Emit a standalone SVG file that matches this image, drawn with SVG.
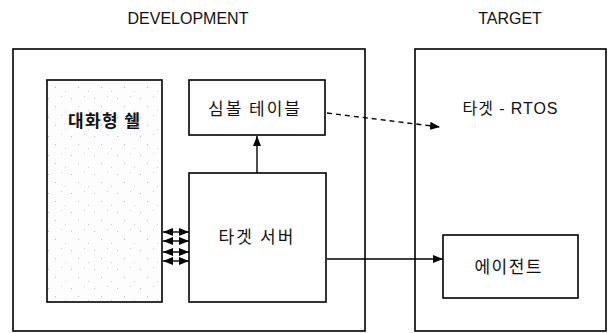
<svg xmlns="http://www.w3.org/2000/svg" width="608" height="333" viewBox="0 0 608 333">
<style>
.box{fill:#fff;stroke:#000;stroke-width:1.6}
.lbl{font-family:"Liberation Sans","Noto Sans CJK KR",Arial,sans-serif;font-size:16px;fill:#111;text-anchor:middle}
.kr{font-family:"Noto Sans CJK KR","Liberation Sans",sans-serif;font-size:17px;fill:#111;text-anchor:middle}
.conn{stroke:#000;stroke-width:1.4;fill:none}
</style>
<defs>
<marker id="ah" viewBox="0 0 10 8" refX="10" refY="4" markerWidth="10" markerHeight="8" markerUnits="userSpaceOnUse" orient="auto-start-reverse">
<path d="M0,0 L10,4 L0,8 Z" fill="#000"/>
</marker>
<pattern id="stip" width="23" height="19" patternUnits="userSpaceOnUse">
<rect width="23" height="19" fill="#fdfdfd"/>
<rect x="2" y="3" width="1" height="1" fill="#bbb"/>
<rect x="15" y="1" width="1" height="1" fill="#ccc"/>
<rect x="9" y="11" width="1" height="1" fill="#bbb"/>
<rect x="19" y="15" width="1" height="1" fill="#ccc"/>
</pattern>
</defs>
<rect width="608" height="333" fill="#fff"/>

<text class="lbl" x="188" y="24">DEVELOPMENT</text>
<text class="lbl" x="510" y="24">TARGET</text>

<g id="development">
<rect class="box" x="13" y="49" width="352" height="282"/>
</g>
<g id="target">
<rect class="box" x="415" y="49" width="191" height="282"/>
<text class="lbl" x="510" y="114" font-size="17" textLength="95" lengthAdjust="spacing">타겟 - RTOS</text>
</g>
<g id="shell">
<rect x="47" y="80" width="115" height="222" fill="url(#stip)" stroke="#000" stroke-width="1.6"/>
<text class="kr" x="104" y="127" font-weight="bold" textLength="72" lengthAdjust="spacing">대화형 쉘</text>
</g>
<g id="symbol-table">
<rect class="box" x="189" y="80" width="136" height="55"/>
<text class="kr" x="254" y="115" textLength="92" lengthAdjust="spacing">심볼 테이블</text>
</g>
<g id="target-server">
<rect class="box" x="189" y="173" width="137" height="129"/>
<text class="kr" x="256" y="243" textLength="75" lengthAdjust="spacing">타겟 서버</text>
</g>
<g id="agent">
<rect class="box" x="443" y="235" width="135" height="63"/>
<text class="kr" x="508" y="273" textLength="67" lengthAdjust="spacing">에이전트</text>
</g>

<g id="connectors">
<line class="conn" x1="257" y1="173" x2="257" y2="136" marker-end="url(#ah)"/>
<line class="conn" x1="327" y1="113" x2="440" y2="127" stroke-dasharray="5,4" marker-end="url(#ah)"/>
<line class="conn" x1="327" y1="259" x2="443" y2="259" marker-end="url(#ah)"/>
<line class="conn" x1="163" y1="232" x2="189" y2="232" marker-start="url(#ah)" marker-end="url(#ah)"/>
<line class="conn" x1="163" y1="241" x2="189" y2="241" marker-start="url(#ah)" marker-end="url(#ah)"/>
<line class="conn" x1="163" y1="252" x2="189" y2="252" marker-start="url(#ah)" marker-end="url(#ah)"/>
<line class="conn" x1="163" y1="261" x2="189" y2="261" marker-start="url(#ah)" marker-end="url(#ah)"/>
</g>
</svg>
